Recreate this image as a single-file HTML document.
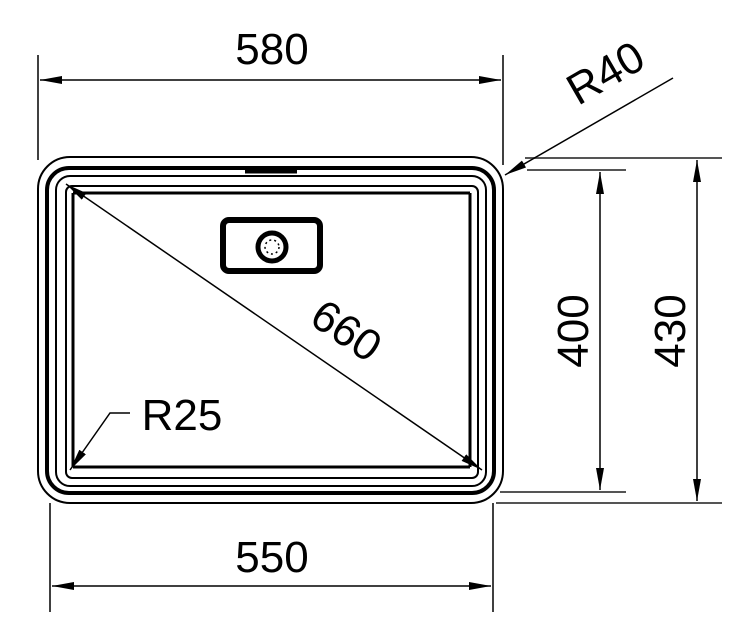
<!DOCTYPE html>
<html><head><style>body{margin:0;background:#fff}svg{display:block}</style></head><body>
<svg width="754" height="640" viewBox="0 0 754 640" xmlns="http://www.w3.org/2000/svg" font-family="Liberation Sans, sans-serif">
<defs>
<marker id="a" viewBox="0 0 22 8" refX="22" refY="4" markerWidth="22" markerHeight="8" markerUnits="userSpaceOnUse" orient="auto-start-reverse"><path d="M0,0L22,4L0,8z" fill="#000"/></marker>
</defs>
<g fill="none" stroke="#000">
<rect x="38" y="157" width="465" height="346" rx="32" stroke-width="2"/>
<rect x="47" y="168" width="447" height="325" rx="22" stroke-width="4"/>
<rect x="56" y="176" width="430" height="310" rx="14" stroke-width="2"/>
<rect x="66" y="186" width="412" height="292" rx="6" stroke-width="2"/>
<line x1="73" y1="193" x2="470" y2="193" stroke-width="3"/>
<line x1="73" y1="193" x2="73" y2="467" stroke-width="3"/>
<line x1="73" y1="467" x2="470" y2="467" stroke-width="3"/>
<line x1="470" y1="193" x2="470" y2="467" stroke-width="3"/>
<line x1="245" y1="171" x2="297" y2="171" stroke-width="5"/>
<rect x="223" y="220" width="97" height="51" rx="6" stroke-width="6"/>
<circle cx="272" cy="247" r="14" stroke-width="5"/>
<circle cx="272" cy="247" r="7" stroke-width="1.5" stroke-dasharray="2 3"/>
<g stroke-width="1.5">
<line x1="38" y1="55" x2="38" y2="160"/>
<line x1="503" y1="55" x2="503" y2="165"/>
<line x1="40" y1="80" x2="501" y2="80" marker-start="url(#a)" marker-end="url(#a)"/>
<line x1="50" y1="503" x2="50" y2="612"/>
<line x1="493" y1="503" x2="493" y2="612"/>
<line x1="52" y1="586" x2="491" y2="586" marker-start="url(#a)" marker-end="url(#a)"/>
<line x1="527" y1="170" x2="626" y2="170" stroke="#555" stroke-width="2"/>
<line x1="500" y1="492" x2="626" y2="492" stroke="#555" stroke-width="2"/>
<line x1="600" y1="172" x2="600" y2="490" marker-start="url(#a)" marker-end="url(#a)"/>
<line x1="525" y1="158" x2="722" y2="158" stroke="#555" stroke-width="2"/>
<line x1="496" y1="503" x2="722" y2="503" stroke="#555" stroke-width="2"/>
<line x1="697" y1="160" x2="697" y2="501" marker-start="url(#a)" marker-end="url(#a)"/>
<line x1="66" y1="184" x2="482" y2="470" marker-start="url(#a)" marker-end="url(#a)"/>
<line x1="673" y1="78" x2="505" y2="175" marker-end="url(#a)"/>
<polyline points="130,413 110,413 70,470" marker-end="url(#a)"/>
</g>
</g>
<g font-size="44" fill="#000" text-anchor="middle">
<text x="272" y="64">580</text>
<text x="272" y="572">550</text>
<text x="182" y="430">R25</text>
<text transform="translate(588,331) rotate(-90)">400</text>
<text transform="translate(685,331) rotate(-90)">430</text>
<text transform="translate(338,343) rotate(34)">660</text>
<text transform="translate(613,86) rotate(-30)">R40</text>
</g>
</svg>
</body></html>
